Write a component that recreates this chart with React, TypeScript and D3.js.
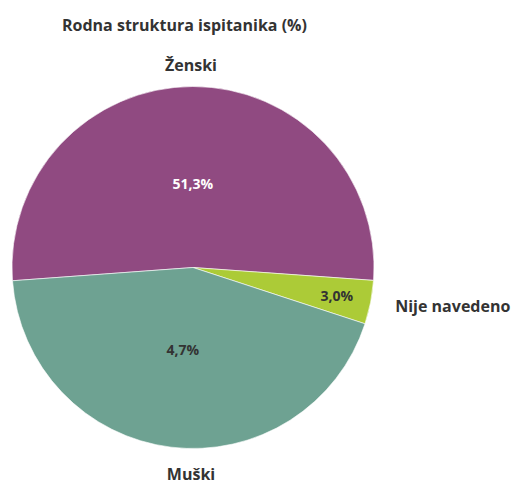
import { useRef, useEffect } from 'react'
import * as d3 from 'd3'

const categories = ['Ženski', 'Nije navedeno', 'Muški']
// slice shares as drawn in the reference
const values = [52.3, 3.9, 43.8]
// value labels as printed on the slices
const valueLabels = ['51,3%', '3,0%', '4,7%']
const colors = ['#904A81', '#ACCB37', '#6EA292']
const labelColors = ['#ffffff', '#333333', '#333333']

const W = 518
const H = 484

export default function App() {
  const svgRef = useRef<SVGSVGElement | null>(null)

  useEffect(() => {
    const el = svgRef.current
    if (!el) return
    d3.select(el).selectAll('*').remove()
    const svg = d3.select(el).attr('width', W).attr('height', H).attr('viewBox', `0 0 ${W} ${H}`)

    const cx = 193
    const cy = 267.5
    const r = 181
    const font = '"Open Sans", Lato, sans-serif'

    svg.append('text')
      .attr('x', 62).attr('y', 31)
      .attr('font-family', font).attr('font-size', 16).attr('font-weight', 700)
      .attr('fill', '#333333')
      .text('Rodna struktura ispitanika (%)')

    const startA = -94.2 * Math.PI / 180
    const pie = d3.pie<number>().sort(null).value(d => d)
      .startAngle(startA).endAngle(startA + 2 * Math.PI)
    const arcs = pie(values)
    const arc = d3.arc<d3.PieArcDatum<number>>().innerRadius(0).outerRadius(r)

    const g = svg.append('g').attr('transform', `translate(${cx},${cy})`)

    g.selectAll('path.slice')
      .data(arcs)
      .join('path')
      .attr('class', 'slice')
      .attr('d', arc)
      .attr('fill', (_, i) => colors[i])
      .attr('stroke', '#ffffff')
      .attr('stroke-width', 0.6)

    // value labels inside slices
    g.selectAll('text.val')
      .data(arcs)
      .join('text')
      .attr('class', 'val')
      .attr('transform', d => {
        const a = (d.startAngle + d.endAngle) / 2
        const share = (d.endAngle - d.startAngle) / (2 * Math.PI)
        const rr = share < 0.1 ? r * 0.81 : r * 0.46
        return `translate(${rr * Math.sin(a)},${-rr * Math.cos(a)})`
      })
      .attr('text-anchor', 'middle')
      .attr('dy', '0.35em')
      .attr('font-family', font).attr('font-size', 14).attr('font-weight', 700)
      .attr('fill', (_, i) => labelColors[i])
      .text((_, i) => valueLabels[i])

    // category labels outside
    g.selectAll('text.cat')
      .data(arcs)
      .join('text')
      .attr('class', 'cat')
      .each(function (d, i) {
        const a = (d.startAngle + d.endAngle) / 2
        const c = Math.cos(a)
        const s = Math.sin(a)
        const t = d3.select(this)
        if (c > 0.5) {
          t.attr('x', -2).attr('y', -(r + 16)).attr('text-anchor', 'middle')
        } else if (c < -0.5) {
          t.attr('x', -2).attr('y', r + 31).attr('text-anchor', 'middle')
        } else {
          const rr = r + 21
          t.attr('x', rr * s + 4).attr('y', -rr * c).attr('dy', '0.35em')
            .attr('text-anchor', s > 0 ? 'start' : 'end')
        }
        t.text(categories[i])
      })
      .attr('font-family', font).attr('font-size', 16).attr('font-weight', 700)
      .attr('fill', '#333333')
  }, [])

  return (
    <div style={{ position: 'absolute', left: 0, top: 0, width: W, height: H }}>
      <svg ref={svgRef} />
    </div>
  )
}
